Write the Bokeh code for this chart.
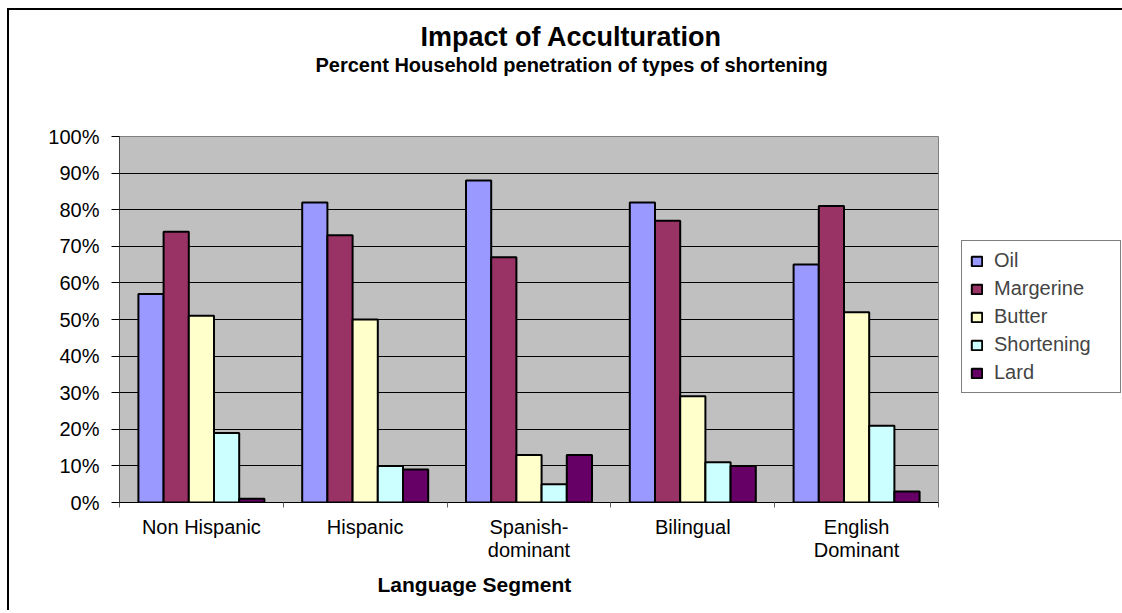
import numpy as np
from bokeh.plotting import figure
from bokeh.models import (FixedTicker, PrintfTickFormatter, Legend, LegendItem,
                          ColumnDataSource, Range1d, Title)
from bokeh.embed import file_html
from bokeh.resources import INLINE

# ---- data ----
categories = ["Non Hispanic", "Hispanic", "Spanish-\ndominant", "Bilingual", "English\nDominant"]
series_names = ["Oil", "Margerine", "Butter", "Shortening", "Lard"]
oil = [57, 82, 88, 82, 65]
margerine = [74, 73, 67, 77, 81]
butter = [51, 50, 13, 29, 52]
shortening = [19, 10, 5, 11, 21]
lard = [1, 9, 13, 10, 3]
y_ticks = list(range(0, 101, 10))

series_values = [oil, margerine, butter, shortening, lard]
colors = ["#9999FF", "#993366", "#FFFFCC", "#CCFFFF", "#660066"]

FONT = "Liberation Sans"

p = figure(frame_width=819, frame_height=366, output_backend="svg", toolbar_location=None,
           x_range=Range1d(0.5, len(categories) + 0.5), y_range=Range1d(0, 100),
           min_border_left=110, min_border_right=183, min_border_top=126,
           min_border_bottom=108, background_fill_color="#C0C0C0",
           border_fill_color="white", outline_line_color="#808080",
           title="Impact of Acculturation")
p.styles = {"margin-left": "7px", "margin-top": "8px",
            "border-left": "2px solid #000000", "border-top": "2px solid #000000"}

n = len(series_names)
bw = 1.0 / (n + 1.5)
xc = np.arange(1, len(categories) + 1)
renderers = []
for j, (name, vals, col) in enumerate(zip(series_names, series_values, colors)):
    src = ColumnDataSource(dict(x=xc + (j - (n - 1) / 2) * bw, top=vals))
    r = p.vbar(x="x", top="top", width=bw, bottom=0, source=src, fill_color=col,
               line_color="black", line_width=2)
    renderers.append((name, r))

# grid
p.xgrid.visible = False
p.ygrid.grid_line_color = "black"
p.ygrid.grid_line_width = 1
p.ygrid.ticker = FixedTicker(ticks=y_ticks)

# y axis
ya = p.yaxis[0]
ya.ticker = FixedTicker(ticks=y_ticks)
ya.formatter = PrintfTickFormatter(format="%d%%")
ya.major_label_text_font = FONT
ya.major_label_text_font_size = "20px"
ya.major_label_text_color = "black"
ya.major_tick_out = 8
ya.major_tick_in = 0
ya.minor_tick_out = 0
ya.minor_tick_in = 0
ya.major_label_standoff = 12
ya.axis_line_color = "#404040"
ya.major_tick_line_color = "black"

# x axis
xa = p.xaxis[0]
xa.ticker = FixedTicker(ticks=list(xc), minor_ticks=list(np.arange(0.5, len(categories) + 1, 1.0)))
xa.major_label_overrides = {int(i): c for i, c in zip(xc, categories)}
xa.major_label_text_font = FONT
xa.major_label_text_font_size = "20px"
xa.major_label_text_line_height = 1.05
xa.major_label_text_color = "black"
xa.major_tick_out = 0
xa.major_tick_in = 0
xa.minor_tick_out = 5
xa.minor_tick_in = 0
xa.minor_tick_line_color = "#606060"
xa.major_label_standoff = 8
xa.axis_line_color = "black"

# legend
legend = Legend(items=[LegendItem(label=nm, renderers=[r]) for nm, r in renderers],
                location=(23, 109), orientation="vertical", margin=0,
                label_text_font=FONT, label_text_font_size="20px", label_height=20,
                label_width=118,
                glyph_height=12, glyph_width=13, spacing=5, padding=8, label_standoff=11,
                border_line_color="black", border_line_width=1,
                background_fill_color="white", background_fill_alpha=1)
p.add_layout(legend, "right")

# titles (inner to outer: spacer, subtitle, main title)
p.add_layout(Title(text=" ", text_font_size="1px", standoff=58), "above")
p.add_layout(Title(text="Percent Household penetration of types of shortening",
                   align="left", offset=196, text_font=FONT, text_font_size="20px",
                   text_font_style="bold", text_color="black", standoff=0), "above")

p.title.align = "left"
p.title.offset = 301
p.title.text_font = FONT
p.title.text_font_size = "27px"
p.title.text_font_style = "bold"
p.title.text_color = "black"
p.title.standoff = 0

p.add_layout(Title(text="Language Segment", align="left", offset=258,
                   text_font=FONT, text_font_size="21px", text_font_style="bold",
                   text_color="black", standoff=14), "below")

open("out.html", "w").write(file_html(p, INLINE))
